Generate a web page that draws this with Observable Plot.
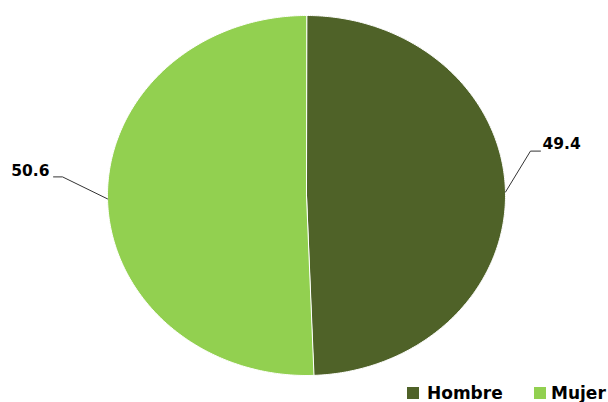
<!DOCTYPE html>
<html><head><meta charset="utf-8">
<script src="https://cdn.jsdelivr.net/npm/d3@7"></script>
<script src="https://cdn.jsdelivr.net/npm/@observablehq/plot@0.6"></script>
<style>
body{margin:0;background:#fff;font-family:"DejaVu Sans",Verdana,sans-serif;}
#wrap{position:relative;width:608px;height:402px;overflow:hidden;}
.item{position:absolute;top:384px;height:18px;display:flex;align-items:center;font-weight:bold;font-size:17px;color:#000;white-space:nowrap;}
.sw{display:inline-block;width:12px;height:12px;margin-right:8px;}
</style></head>
<body><div id="wrap"></div>
<script>
const categories = ["Hombre", "Mujer"];
const values = [49.4, 50.6];
const colors = ["#4f6228", "#92d050"];
// leader offsets in pixels: elbow and end relative to slice edge midpoint
const leaderElbow = [[25, -41], [-45, -22]];
const leaderEnd = [[35, -41], [-54, -22]];
const labelPos = [[37, -48], [-58, -28]];
const legendLeft = [407, 534];
const legendGap = [8, 5];

const W = 608, H = 380;
const xRange = [107, 505], yRange = [375, 15];
const rx = (xRange[1] - xRange[0]) / 2, ry = (yRange[0] - yRange[1]) / 2;

const arcs = d3.pie().sort(null).value(d => d)(values);
const poly = [];
arcs.forEach((a, i) => {
  poly.push({cat: categories[i], x: 0, y: 0});
  const n = Math.max(2, Math.ceil((a.endAngle - a.startAngle) / 0.01));
  for (let k = 0; k <= n; k++) {
    const t = a.startAngle + (a.endAngle - a.startAngle) * k / n;
    poly.push({cat: categories[i], x: Math.sin(t), y: Math.cos(t)});
  }
});
const leaders = [], labels = [];
arcs.forEach((a, i) => {
  const m = (a.startAngle + a.endAngle) / 2;
  const x0 = Math.sin(m), y0 = Math.cos(m);
  leaders.push({cat: categories[i], x: x0, y: y0});
  leaders.push({cat: categories[i], x: x0 + leaderElbow[i][0] / rx, y: y0 - leaderElbow[i][1] / ry});
  leaders.push({cat: categories[i], x: x0 + leaderEnd[i][0] / rx, y: y0 - leaderEnd[i][1] / ry});
  labels.push({cat: categories[i], v: values[i], x: x0 + labelPos[i][0] / rx, y: y0 - labelPos[i][1] / ry, anchor: labelPos[i][0] > 0 ? "start" : "end"});
});

const txt = {x: "x", y: "y", text: d => d.v.toFixed(1), lineAnchor: "middle", fontSize: 15.5, fontWeight: "bold", fill: "#000", fontFamily: "DejaVu Sans"};
const chart = Plot.plot({
  width: W, height: H, margin: 0,
  x: {domain: [-1, 1], range: xRange, axis: null},
  y: {domain: [-1, 1], range: yRange, axis: null},
  color: {domain: categories, range: colors},
  style: {background: "#fff"},
  marks: [
    Plot.line(poly, {x: "x", y: "y", z: "cat", fill: "cat", stroke: "#fff", strokeWidth: 1, curve: "linear-closed"}),
    Plot.line(leaders, {x: "x", y: "y", z: "cat", stroke: "#333", strokeWidth: 1}),
    Plot.text(labels.filter(d => d.anchor === "start"), {...txt, textAnchor: "start"}),
    Plot.text(labels.filter(d => d.anchor === "end"), {...txt, textAnchor: "end"})
  ]
});
const wrap = document.getElementById("wrap");
wrap.appendChild(chart);
categories.forEach((c, i) => {
  const it = document.createElement("div");
  it.className = "item";
  it.style.left = legendLeft[i] + "px";
  const sw = document.createElement("span");
  sw.className = "sw"; sw.style.background = colors[i]; sw.style.marginRight = legendGap[i] + "px";
  it.appendChild(sw);
  it.appendChild(document.createTextNode(c));
  wrap.appendChild(it);
});
</script></body></html>
